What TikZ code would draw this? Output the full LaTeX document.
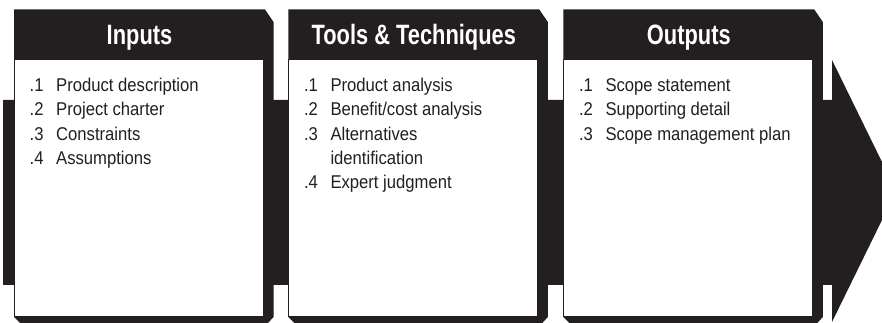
\documentclass[tikz,border=0pt]{standalone}
\usepackage{fontspec}
\setmainfont{Liberation Sans}
\newfontfamily\headfont[FakeStretch=0.78]{Liberation Sans}
\newfontfamily\bodyfont[FakeStretch=0.9]{Liberation Sans}
\definecolor{boxblack}{RGB}{35,31,32}

\begin{document}
\begin{tikzpicture}[x=1pt,y=1pt,
    head/.style={text=white,font=\headfont\bfseries\fontsize{28}{28}\selectfont,anchor=base,inner sep=0pt},
    num/.style={text=boxblack,font=\bodyfont\fontsize{18.5}{18.5}\selectfont,anchor=base west,inner sep=0pt},
    item/.style={text=boxblack,font=\bodyfont\fontsize{18.5}{18.5}\selectfont,anchor=base west,inner sep=0pt},
    shell/.style={fill=boxblack},
    face/.style={fill=white,draw=boxblack,line width=1}]
    \useasboundingbox (0,0) rectangle (882,323);
    % big arrow behind the boxes
    \fill[boxblack] (3,223) -- (832,223) -- (832,263) -- (882,161) -- (882,103)
        -- (832,1) -- (832,38) -- (3,38) -- cycle;
     \begin{scope}[xshift=14]
    \fill[shell] (0,313.5) -- (251,313.5) -- (259.5,301) -- (259.5,6) -- (254,0) -- (6,0) -- (0,6) -- cycle;
    \draw[face] (0.5,6.5) rectangle (249.5,263);
    \node[head] (inH) at (125.5,278.7) {Inputs};
    \node[num] (in1) at (15.5,231.5) {.1};
    \node[item] (inA) at (42,231.5) {Product description};
    \node[num] (in2) at (15.5,207.2) {.2};
    \node[item] (inB) at (42,207.2) {Project charter};
    \node[num] (in3) at (15.5,182.9) {.3};
    \node[item] (inC) at (42,182.9) {Constraints};
    \node[num] (in4) at (15.5,158.6) {.4};
    \node[item] (inD) at (42,158.6) {Assumptions};
     \end{scope}
     \begin{scope}[xshift=288.3]
        \fill[shell] (0,313.5) -- (251,313.5) -- (259.5,301) -- (259.5,6) -- (254,0) -- (6,0) -- (0,6) -- cycle;
        \draw[face] (0.5,6.5) rectangle (249.5,263);
        \node[head] (ttH) at (125.5,278.7) {Tools \& Techniques};
        \node[num] (tt1) at (15.5,231.5) {.1};
        \node[item] (ttA) at (42,231.5) {Product analysis};
        \node[num] (tt2) at (15.5,207.2) {.2};
        \node[item] (ttB) at (42,207.2) {Benefit/cost analysis};
        \node[num] (tt3) at (15.5,182.9) {.3};
        \node[item] (ttC) at (42,182.9) {Alternatives};
        \node[item] (ttC2) at (42,158.6) {identification};
        \node[num] (tt4) at (15.5,134.3) {.4};
        \node[item] (ttD) at (42,134.3) {Expert judgment};
         \end{scope}
         \begin{scope}[xshift=563.3]
            \fill[shell] (0,313.5) -- (251,313.5) -- (259.5,301) -- (259.5,6) -- (254,0) -- (6,0) -- (0,6) -- cycle;
            \draw[face] (0.5,6.5) rectangle (249.5,263);
            \node[head] (outH) at (125.5,278.7) {Outputs};
            \node[num] (out1) at (15.5,231.5) {.1};
            \node[item] (outA) at (42,231.5) {Scope statement};
            \node[num] (out2) at (15.5,207.2) {.2};
            \node[item] (outB) at (42,207.2) {Supporting detail};
            \node[num] (out3) at (15.5,182.9) {.3};
            \node[item] (outC) at (42,182.9) {Scope management plan};
             \end{scope}
    \end{tikzpicture}
\end{document}
